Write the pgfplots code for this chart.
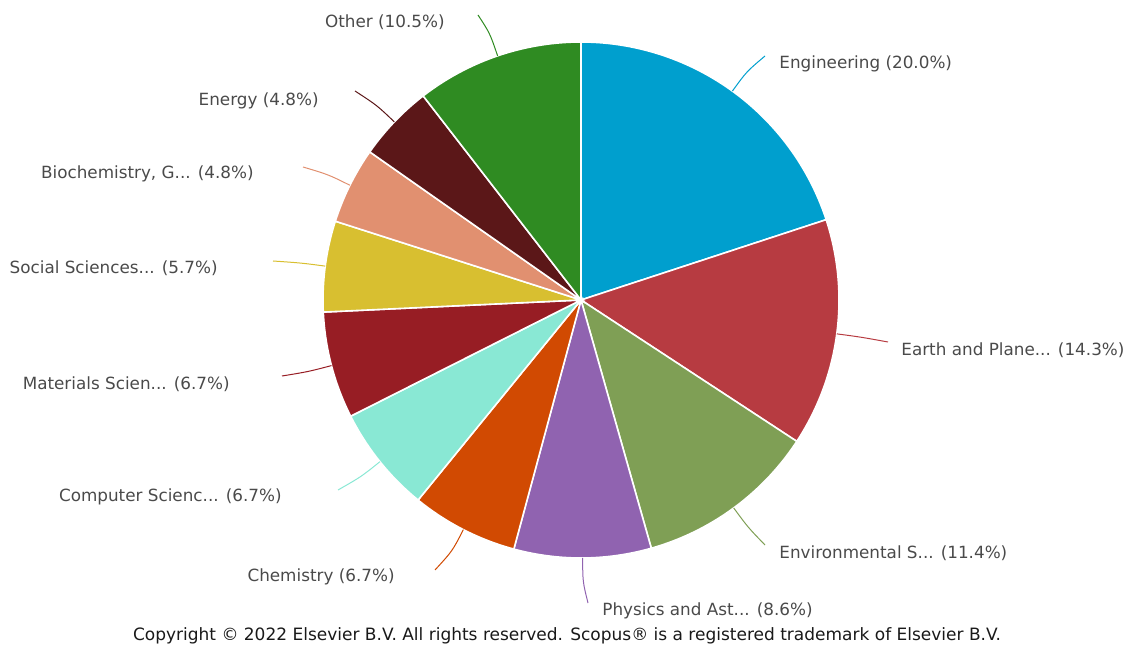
\documentclass[border=0pt]{standalone}
\usepackage{fontspec}
\setmainfont{DejaVu Sans}
\usepackage{pgfplots}
\pgfplotsset{compat=1.18}
\definecolor{cEng}{HTML}{009FCE}
\definecolor{cEarth}{HTML}{B73B41}
\definecolor{cEnv}{HTML}{7F9F55}
\definecolor{cPhys}{HTML}{9063B0}
\definecolor{cChem}{HTML}{D14A02}
\definecolor{cComp}{HTML}{89E8D4}
\definecolor{cMat}{HTML}{971D24}
\definecolor{cSoc}{HTML}{D8BF30}
\definecolor{cBio}{HTML}{E19070}
\definecolor{cEnergy}{HTML}{5B1718}
\definecolor{cOther}{HTML}{2F8B22}
\definecolor{lab}{HTML}{4A4A4A}
% slice: start angle, end angle (math degrees), computed from shares
% Engineering 20.0, Earth 14.3, Environmental 11.4, Physics 8.6, Chemistry 6.7,
% Computer 6.7, Materials 6.7, Social 5.7, Biochemistry 4.8, Energy 4.8, Other 10.5
\newcommand{\slice}[3]{%
  \addplot[fill=#1, draw=white, line width=0.8pt, domain=#2:#3, samples=60, variable=\t]
    ({581+258*cos(t)},{346+258*sin(t)}) -- (axis cs:581,346) -- cycle;}
\newcommand{\leader}[4]{% color, midangle, endx, endy
  \draw[#1, line width=0.5pt] (axis cs:{581+258*cos(#2)},{346+258*sin(#2)})
    .. controls (axis cs:{581+282*cos(#2)},{346+282*sin(#2)}) .. (axis cs:#3,#4);}
\tikzset{lbl/.style={font=\fontsize{8.4}{10}\selectfont, text=lab, inner sep=0pt}}
\begin{document}
\begin{tikzpicture}
\begin{axis}[
  scale only axis, width=566pt, height=323pt,
  xmin=0, xmax=1132, ymin=0, ymax=646,
  hide axis, clip=false,
]
\path (axis cs:0,0) rectangle (axis cs:1132,646);
\slice{cEng}{18.14}{90}
\slice{cEarth}{-33.23}{18.14}
\slice{cEnv}{-74.19}{-33.23}
\slice{cPhys}{-105.09}{-74.19}
\slice{cChem}{-129.16}{-105.09}
\slice{cComp}{-153.23}{-129.16}
\slice{cMat}{-177.31}{-153.23}
\slice{cSoc}{-197.78}{-177.31}
\slice{cBio}{-215.03}{-197.78}
\slice{cEnergy}{-232.28}{-215.03}
\slice{cOther}{-270}{-232.28}

\leader{cEng}{54.07}{765}{590}
\leader{cEarth}{-7.545}{888}{304}
\leader{cEnv}{-53.71}{765}{101}
\leader{cPhys}{-89.64}{588}{43}
\leader{cChem}{-117.125}{435}{76}
\leader{cComp}{-141.195}{338}{156}
\leader{cMat}{-165.27}{282}{270}
\leader{cSoc}{-187.545}{273}{385}
\leader{cBio}{-206.405}{303}{479}
\leader{cEnergy}{-223.655}{355}{555}
\leader{cOther}{-251.14}{478}{631}

\node[lbl, anchor=west] at (axis cs:779,582) {Engineering (20.0\%)};
\node[lbl, anchor=west] at (axis cs:901,296) {Earth and Plane... (14.3\%)};
\node[lbl, anchor=west] at (axis cs:779,93) {Environmental S... (11.4\%)};
\node[lbl, anchor=west] at (axis cs:602,35) {Physics and Ast... (8.6\%)};
\node[lbl, anchor=east] at (axis cs:395,69) {Chemistry (6.7\%)};
\node[lbl, anchor=east] at (axis cs:282,149) {Computer Scienc... (6.7\%)};
\node[lbl, anchor=east] at (axis cs:230,262) {Materials Scien... (6.7\%)};
\node[lbl, anchor=east] at (axis cs:218,378) {Social Sciences... (5.7\%)};
\node[lbl, anchor=east] at (axis cs:254,472) {Biochemistry, G... (4.8\%)};
\node[lbl, anchor=east] at (axis cs:319,545) {Energy (4.8\%)};
\node[lbl, anchor=east] at (axis cs:445,624) {Other (10.5\%)};
\node[lbl, text=black!90, font=\fontsize{8.5}{10}\selectfont] at (axis cs:567,10) {Copyright © 2022 Elsevier B.V. All rights reserved. Scopus® is a registered trademark of Elsevier B.V.};
\end{axis}
\end{tikzpicture}
\end{document}
